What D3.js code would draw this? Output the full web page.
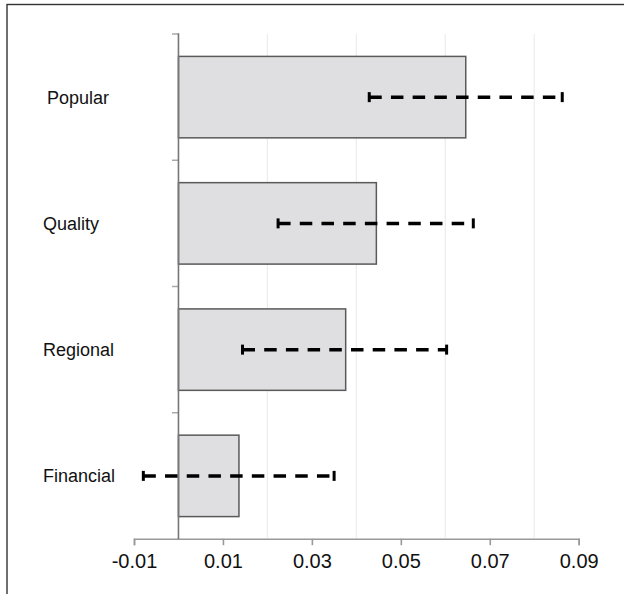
<!DOCTYPE html>
<html>
<head>
<meta charset="utf-8">
<script src="https://cdn.jsdelivr.net/npm/d3@7"></script>
<style>
  html, body { margin: 0; padding: 0; background: #fff; }
  svg { display: block; }
</style>
</head>
<body>
<script>
// Categories, point estimates and confidence interval bounds
const categories = ["Popular", "Quality", "Regional", "Financial"];
const estimates = [0.0646, 0.0445, 0.0376, 0.0136];
const ciLower = [0.0429, 0.0224, 0.0144, -0.0079];
const ciUpper = [0.0863, 0.0663, 0.0603, 0.0350];
const xTicks = [-0.01, 0.01, 0.03, 0.05, 0.07, 0.09];
const gridValues = [0.02, 0.04, 0.06, 0.08];

const W = 624, H = 594;
const svg = d3.select("body").append("svg").attr("width", W).attr("height", H);

// Outer frame (top and left edges visible)
svg.append("rect")
  .attr("x", 7).attr("y", 4.5).attr("width", 700).attr("height", 700)
  .attr("fill", "none").attr("stroke", "#333").attr("stroke-width", 1.4);

const x = d3.scaleLinear().domain([-0.01, 0.09]).range([134, 578.7]);
const y = d3.scaleBand().domain(categories).range([34, 539]).padding(0);
const barH = y.bandwidth() * 0.645;

// Vertical grid lines
svg.append("g").selectAll("line").data(gridValues).join("line")
  .attr("x1", d => x(d)).attr("x2", d => x(d))
  .attr("y1", 34).attr("y2", 538)
  .attr("stroke", "#ececec").attr("stroke-width", 1.2);

// Bars
svg.append("g").selectAll("rect").data(categories).join("rect")
  .attr("x", x(0))
  .attr("y", d => y(d) + y.bandwidth() / 2 - barH / 2)
  .attr("width", (d, i) => x(estimates[i]) - x(0))
  .attr("height", barH)
  .attr("fill", "#dfdfe1")
  .attr("stroke", "#5a5a5a")
  .attr("stroke-width", 1.5);

// X axis (plain hyphen for negative values)
const fmt = d3.format(".2f");
const xAxis = d3.axisBottom(x).tickValues(xTicks).tickSize(6.5)
  .tickFormat(d => fmt(d).replace("\u2212", "-"));
const gx = svg.append("g").attr("transform", "translate(0,538.7)").call(xAxis);
gx.select(".domain").attr("stroke", "#999").attr("stroke-width", 1.6);
gx.selectAll(".tick line").attr("stroke", "#999").attr("stroke-width", 1.6);
gx.selectAll(".tick text")
  .attr("y", 15).attr("dy", "0.71em")
  .attr("fill", "#111")
  .style("font-family", "'Liberation Sans', Arial, sans-serif")
  .style("font-size", "20px");

// Y axis with ticks on band boundaries
const boundaries = categories.map(c => y(c));
svg.append("g").selectAll("line").data(boundaries).join("line")
  .attr("x1", 172).attr("x2", x(0))
  .attr("y1", d => d).attr("y2", d => d)
  .attr("stroke", "#aaa").attr("stroke-width", 1.5);
svg.append("line")
  .attr("x1", x(0)).attr("x2", x(0)).attr("y1", 33.3).attr("y2", 539)
  .attr("stroke", "#777").attr("stroke-width", 1.6);

// Category labels
svg.append("g").selectAll("text").data(categories).join("text")
  .attr("x", (d, i) => i === 0 ? 47 : 43)
  .attr("y", d => y(d) + y.bandwidth() / 2)
  .attr("dy", "0.36em")
  .attr("fill", "#111")
  .style("font-family", "'Liberation Sans', Arial, sans-serif")
  .style("font-size", "18px")
  .text(d => d);

// Confidence intervals: dashed line with end caps
const ci = svg.append("g").selectAll("g").data(categories).join("g");
ci.append("line")
  .attr("x1", (d, i) => x(ciLower[i])).attr("x2", (d, i) => x(ciUpper[i]))
  .attr("y1", d => y(d) + y.bandwidth() / 2).attr("y2", d => y(d) + y.bandwidth() / 2)
  .attr("stroke", "#000").attr("stroke-width", 3.5)
  .attr("stroke-dasharray", "12.5,9.2");
ci.append("line")
  .attr("x1", (d, i) => x(ciLower[i])).attr("x2", (d, i) => x(ciLower[i]))
  .attr("y1", d => y(d) + y.bandwidth() / 2 - 5).attr("y2", d => y(d) + y.bandwidth() / 2 + 5)
  .attr("stroke", "#000").attr("stroke-width", 3);
ci.append("line")
  .attr("x1", (d, i) => x(ciUpper[i])).attr("x2", (d, i) => x(ciUpper[i]))
  .attr("y1", d => y(d) + y.bandwidth() / 2 - 5).attr("y2", d => y(d) + y.bandwidth() / 2 + 5)
  .attr("stroke", "#000").attr("stroke-width", 3);
</script>
</body>
</html>
